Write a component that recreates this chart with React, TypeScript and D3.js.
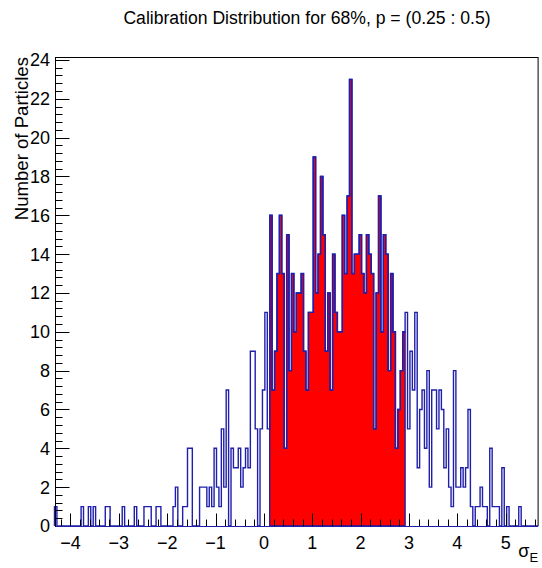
import React from "react";
import * as d3 from "d3";

// Histogram binning (200 bins of 0.05 from -4.33)
const xMin = -4.33;
const binWidth = 0.05;

// Counts per bin, left tail (bins 0..88)
const leftCounts = [
  1, 0, 0, 0, 0, 0, 0, 0, 0, 0, 0, 1, 0, 0, 1, 0, 1, 0, 0, 0,
  0, 1, 1, 0, 0, 0, 0, 0, 1, 0, 0, 0, 0, 1, 0, 0, 0, 1, 1, 1,
  0, 0, 1, 1, 0, 0, 0, 0, 0, 1, 2, 0, 0, 1, 1, 4, 4, 0, 0, 0,
  2, 2, 2, 1, 2, 1, 4, 2, 1, 5, 2, 7, 0, 4, 3, 3, 4, 2, 3, 4,
  3, 9, 9, 5, 0, 5, 7, 11, 5,
];

// Counts in the central 68% region (bins 89..144), drawn in red
const redCounts = [
  16, 7, 9, 13, 16, 13, 4, 15, 8, 13, 10, 12, 12, 13, 9, 7, 11, 11, 19, 12,
  14, 18, 15, 9, 12, 7, 14, 11, 10, 10, 16, 13, 17, 23, 13, 14, 14, 15, 13, 12,
  15, 14, 13, 5, 12, 17, 10, 15, 14, 8, 13, 10, 4, 6, 8, 10,
];

// Counts, right tail (bins 145..199)
const rightCounts = [
  11, 5, 9, 7, 11, 3, 6, 7, 4, 8, 2, 7, 7, 5, 7, 6, 3, 5, 2, 1,
  8, 2, 2, 3, 2, 3, 6, 1, 0, 1, 1, 2, 1, 1, 0, 4, 1, 1, 1, 0,
  3, 0, 1, 0, 0, 0, 0, 1, 0, 0, 0, 0, 0, 0, 0,
];

const yMajorTicks = [0, 2, 4, 6, 8, 10, 12, 14, 16, 18, 20, 22, 24];
const xMajorTicks = [-4, -3, -2, -1, 0, 1, 2, 3, 4, 5];

const titleText = "Calibration Distribution for 68%, p = (0.25 : 0.5)";
const yTitle = "Number of Particles";

const W = 542;
const H = 568;
const FONT = "'Liberation Sans', Arial, Helvetica, sans-serif";

export default function App() {
  const allCounts = [...leftCounts, ...redCounts, ...rightCounts];
  const nBins = allCounts.length;
  const xMax = xMin + nBins * binWidth;
  const yMax = 24.15;

  const left = 54.5;
  const right = 538.1;
  const top = 57;
  const bottom = 526;

  const x = d3.scaleLinear().domain([xMin, xMax]).range([left, right]);
  const y = d3.scaleLinear().domain([0, yMax]).range([bottom, top]);

  const stepPath = (counts: number[], startBin: number, close: boolean) => {
    const p = d3.path();
    const x0 = x(xMin + startBin * binWidth);
    p.moveTo(x0, y(0));
    counts.forEach((c, i) => {
      const xl = x(xMin + (startBin + i) * binWidth);
      const xr = x(xMin + (startBin + i + 1) * binWidth);
      p.lineTo(xl, y(c));
      p.lineTo(xr, y(c));
    });
    p.lineTo(x(xMin + (startBin + counts.length) * binWidth), y(0));
    if (close) p.closePath();
    return p.toString();
  };

  const bluePath = stepPath(allCounts, 0, false);
  const redPath = stepPath(redCounts, leftCounts.length, true);

  const yMinor = d3.range(0, yMax, 0.4).filter((v) => Math.abs(v / 2 - Math.round(v / 2)) > 1e-6);
  const xMinor = d3.range(-4.2, xMax, 0.2).filter((v) => Math.abs(v - Math.round(v)) > 1e-6 && v > xMin);

  const axisX = Math.round(left) + 0.5;
  const axisY = bottom + 0.5;

  return (
    <svg
      width={W}
      height={H}
      style={{ position: "absolute", left: 0, top: 0, background: "#fff" }}
      fontFamily={FONT}
    >
      <rect x={0} y={0} width={W} height={H} fill="#fff" />
      {/* red 68% histogram */}
      <path d={redPath} fill="#ff0000" stroke="#1a1aa0" strokeWidth={1.3} />
      {/* full histogram outline */}
      <path d={bluePath} fill="none" stroke="#1f1fab" strokeWidth={1.4} />

      {/* frame */}
      <line x1={axisX} x2={right} y1={top + 0.5} y2={top + 0.5} stroke="#000" strokeWidth={1} />
      <line x1={right} x2={right} y1={top} y2={bottom} stroke="#000" strokeWidth={1} />
      <line x1={axisX} x2={axisX} y1={top} y2={bottom + 1} stroke="#000" strokeWidth={1} />

      {/* y ticks */}
      {yMajorTicks.map((t) => (
        <g key={"ym" + t}>
          <line x1={axisX} x2={axisX + 14} y1={Math.round(y(t)) + 0.5} y2={Math.round(y(t)) + 0.5} stroke="#000" />
          <text x={50} y={y(t)} dy="0.36em" textAnchor="end" fontSize={18} fill="#000">
            {t}
          </text>
        </g>
      ))}
      {yMinor.map((t, i) => (
        <line key={"yn" + i} x1={axisX} x2={axisX + 7} y1={Math.round(y(t)) + 0.5} y2={Math.round(y(t)) + 0.5} stroke="#000" />
      ))}

      {/* x ticks */}
      {xMajorTicks.map((t) => (
        <g key={"xm" + t}>
          <line x1={Math.round(x(t)) + 0.5} x2={Math.round(x(t)) + 0.5} y1={axisY} y2={axisY - 13} stroke="#000" />
          <text x={x(t)} y={549} textAnchor="middle" fontSize={18} fill="#000">
            {t < 0 ? "\u2212" + Math.abs(t) : String(t)}
          </text>
        </g>
      ))}
      {xMinor.map((t, i) => (
        <line key={"xn" + i} x1={Math.round(x(t)) + 0.5} x2={Math.round(x(t)) + 0.5} y1={axisY} y2={axisY - 7} stroke="#000" />
      ))}
      <line x1={axisX} x2={right} y1={axisY} y2={axisY} stroke="#1f1fab" strokeWidth={1} />

      {/* titles */}
      <text x={307} y={24} textAnchor="middle" fontSize={17.6} fill="#000">
        {titleText}
      </text>
      <text
        transform={`translate(28, ${top}) rotate(-90)`}
        textAnchor="end"
        fontSize={18.6}
        fill="#000"
      >
        {yTitle}
      </text>
      <text x={right} y={557} textAnchor="end" fontSize={18} fill="#000">
        σ<tspan dy={5} fontSize={13}>E</tspan>
      </text>
    </svg>
  );
}
